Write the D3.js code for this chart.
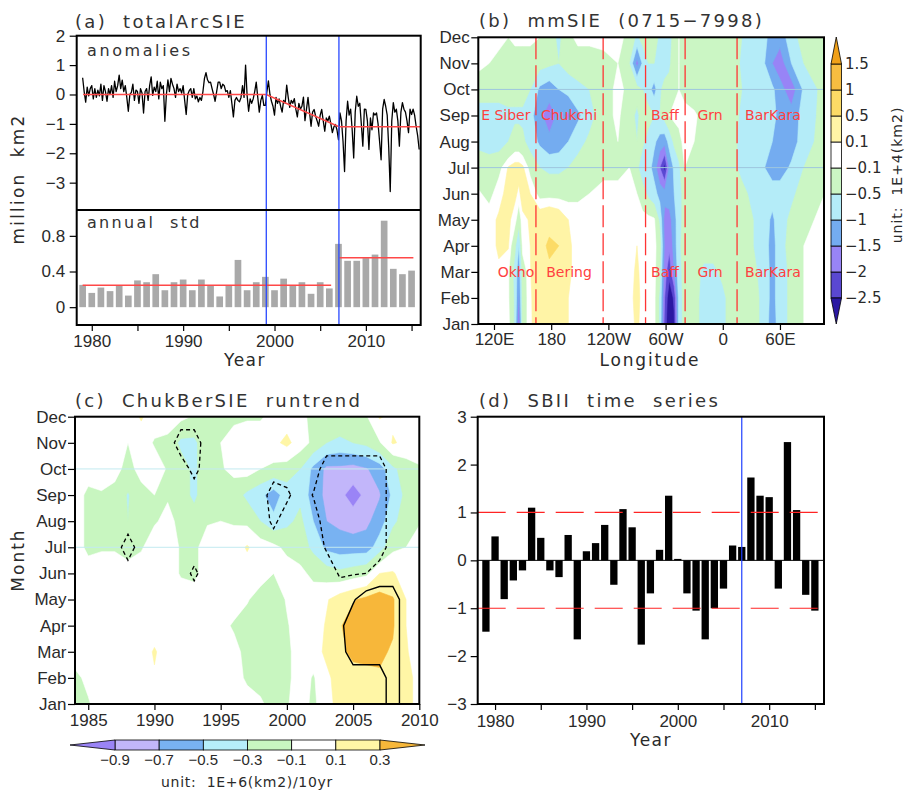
<!DOCTYPE html>
<html>
<head>
<meta charset="utf-8">
<script src="https://cdn.jsdelivr.net/npm/d3@7/dist/d3.min.js"></script>
<style>
body { margin:0; background:#fff; }
</style>
</head>
<body>
<svg id="chart" width="905" height="791" xmlns="http://www.w3.org/2000/svg"></svg>
<script>
// ======================= DATA =======================
// (a) total Arctic SIE anomalies, 6 samples per year from Jan 1979 (million km2)
const anomStartYear = 1979;
const anomStepsPerYear = 6;
const anomValues = [
  0.57, 0.1, -0.26, 0.25, -0.05, 0.2,
  0.3, -0.15, 0.2, -0.1, 0.15, -0.05,
  0.35, -0.2, 0.3, 0.1, -0.23, 0.2,
  0.0, 0.3, -0.1, 0.45, 0.1, 0.3,
  0.66, 0.2, 0.49, 0.1, 0.3, -0.1,
  -0.57, 0.0, 0.07, 0.35, -0.2, 0.15,
  0.1, -0.3, 0.2, 0.05, -0.63, 0.1,
  0.2, -0.2, 0.3, 0.6, -0.03, 0.25,
  0.1, 0.45, -0.15, 0.42, 0.2, 0.3,
  -0.91, 0.0, 0.5, 0.1, 0.55, 0.35,
  0.2, -0.1, 0.35, 0.1, 0.2, 0.05,
  0.3, -0.2, -0.68, 0.0, 0.13, 0.2,
  -0.1, 0.2, -0.15, -0.05, -0.25, -0.1,
  -0.2, 0.1, 0.55, 0.74, 0.5, 0.4,
  0.42, 0.2, 0.0, -0.23, 0.1, 0.42,
  0.42, 0.2, 0.35, 0.3, 0.1, 0.13,
  -0.1, 0.13, -0.3, -0.76, -0.2, -0.1,
  -0.2, -0.25, -0.1, 0.3, -0.1, 1.0,
  -0.03, -0.57, -0.15, -0.3, -0.15, 0.1,
  0.42, -0.1, -0.6, -0.2, -0.03, -0.37,
  -0.37, 0.1, 0.46, 0.0, -0.23, -0.4,
  -0.7, -0.1, -0.3, -0.15, -0.4, -0.6,
  -0.2, -0.3, 0.32, -0.1, -0.44, -0.2,
  -0.3, -0.14, -0.5, -0.76, -0.3, -0.5,
  -0.4, -0.09, -0.89, -0.5, -0.1, -0.6,
  -1.08, -0.6, -0.51, -0.74, -0.9, -1.08,
  -0.7, -0.51, -0.9, -1.25, -0.8, -0.9,
  -0.74, -1.0, -1.3, -1.1, -1.02, -1.2,
  -1.54, -0.63, -0.9, -1.6, -2.62, -0.9,
  -0.23, -0.7, -0.5, -1.2, -2.16, -0.6,
  -0.06, -0.4, -0.3, -1.0, -1.76, -0.5,
  -0.51, -0.9, -1.87, -0.8, -1.2, -0.63,
  -0.7, -0.63, -1.0, -1.6, -2.22, -0.5,
  -0.17, -0.4, -0.7, -1.8, -3.3, -0.9,
  -0.28, -0.6, -0.5, -0.9, -1.76, -0.6,
  -0.28, -0.5, -0.6, -0.9, -1.3, -0.5,
  -0.68, -0.5, -0.7, -1.08, -1.4, -1.87
];
const trendYears = [1979.05, 1999.1, 2007.05, 2016];
const trendValues = [0, 0, -1.1, -1.1];
const breakYearsA = [1999.1, 2007.05];
const anomTicks = [-3, -2, -1, 0, 1, 2];

const stdYears = d3.range(1979, 2016);
const stdValues = [0.25,0.16,0.22,0.18,0.24,0.13,0.30,0.28,0.37,0.19,
                   0.28,0.31,0.19,0.31,0.24,0.12,0.24,0.53,0.19,0.28,
                   0.34,0.19,0.32,0.24,0.28,0.15,0.28,0.21,0.71,0.52,
                   0.52,0.55,0.59,0.97,0.43,0.37,0.41];
const stdMeanStart = [1979, 2007.1];
const stdMeanEnd = [2006.2, 2015.2];
const stdMeanValues = [0.245, 0.555];
const stdTicks = [0, 0.4, 0.8];

// (b) mmSIE difference (0715-7998), unit 1E+4 km2 ; rows Jan..Dec, columns = lonGrid
const monthNames = ["Jan","Feb","Mar","Apr","May","Jun","Jul","Aug","Sep","Oct","Nov","Dec"];
const lonGrid = [103,115,125,135,142,146,150,158,168,178,188,198,208,220,235,250,262,270,276,282,
                 288,294,299,304,309,314,320,330,340,350,360,370,380,392,404,412,420,432,445,467];
const mmSIE = [
  [0.05,0,0.08,0, -0.6,-2.0,-0.3,0.05, 0.3,0.3,0.25,0.1, 0,0,0,0, 0,0.15,0,0, 0,-0.6,-2.2,-3.0, -2.6,-0.8,-0.3,-0.3, -0.7,-0.8,-0.6,-0.3, -0.2,-0.3,-0.7,-1.3, -0.7,-0.4,-0.1,0],
  [0,0.05,0.08,-0.05, -0.6,-1.6,-0.3,0.05, 0.35,0.35,0.3,0.1, 0,0,0,0, 0.05,0.15,0.05,0, 0,-0.6,-2.0,-2.9, -2.4,-0.8,-0.3,-0.3, -0.7,-0.8,-0.6,-0.3, -0.2,-0.3,-0.7,-1.2, -0.7,-0.4,-0.1,0],
  [0,0.05,0.08,-0.05, -0.7,-1.3,-0.3,0.08, 0.4,0.45,0.4,0.15, 0,0,0,0, 0,0.15,0,0, 0,-0.4,-1.8,-2.3, -1.5,-0.7,-0.3,-0.3, -0.6,-0.6,-0.4,-0.3, -0.2,-0.4,-0.7,-1.2, -0.7,-0.4,-0.1,0],
  [0,0.05,0.12,0.12, -0.4,-1.0,0.0,0.1, 0.4,0.55,0.5,0.15, 0,0,0,0, 0,0.1,0,0, 0,-0.3,-1.6,-1.9, -1.3,-0.6,-0.3,-0.3, -0.3,-0.3,-0.3,-0.2, -0.3,-0.5,-0.8,-1.2, -0.7,-0.3,-0.1,0],
  [0,0.05,0.12,0.15, 0,-0.3,0.05,0.12, 0.3,0.4,0.3,0.1, 0,0,0,0, 0,0,0,0, -0.05,-0.6,-1.7,-1.7, -1.2,-0.7,-0.3,-0.3, -0.3,-0.2,-0.3,-0.3, -0.3,-0.5,-0.8,-1.1, -0.7,-0.4,-0.2,0],
  [-0.05,-0.2,0.05,0.15, 0.15,0.05,0.2,0.1, -0.2,-0.2,-0.2,-0.2, -0.15,-0.1,0,0, 0,-0.1,-0.3,-0.6, -0.8,-1.2,-1.3,-1.2, -1.0,-0.7,-0.3,-0.2, -0.3,-0.2,-0.3,-0.3, -0.4,-0.6,-0.8,-0.8, -0.7,-0.6,-0.3,-0.1],
  [-0.3,-0.3,-0.2,0.12, 0.2,0.2,0.15,-0.2, -0.5,-0.6,-0.6,-0.5, -0.3,-0.3,-0.2,-0.2, -0.1,-0.4,-0.8,-0.8, -1.2,-2.0,-2.7,-1.4, -0.9,-0.6,-0.1,-0.3, -0.3,-0.3,-0.3,-0.4, -0.6,-0.8,-1.0,-1.2, -1.3,-0.9,-0.5,-0.2],
  [-0.6,-0.7,-0.7,-0.5, -0.3,-0.3,-0.4,-0.7, -1.1,-1.4,-1.3,-1.0, -0.7,-0.4,-0.15,-0.1, -0.15,-0.5,-0.4,-0.7, -0.9,-1.2,-1.3,-0.8, -0.4,-0.2,0,-0.1, -0.3,-0.3,-0.3,-0.4, -0.6,-0.7,-0.8,-1.0, -1.2,-1.3,-0.7,-0.3],
  [-0.7,-0.7,-0.7,-0.6, -0.6,-0.6,-0.6,-0.8, -1.4,-1.7,-1.4,-1.6, -1.1,-0.7,-0.2,-0.05, -0.3,-0.6,-0.3,-0.3, -0.5,-0.5,-0.3,-0.1, 0,0,0,-0.05, -0.2,-0.3,-0.3,-0.3, -0.6,-0.7,-0.8,-0.9, -1.1,-1.3,-0.8,-0.3],
  [-0.3,-0.3,-0.3,-0.3, -0.3,-0.3,-0.3,-0.5, -1.1,-1.3,-1.0,-0.8, -0.6,-0.5,-0.2,-0.05, -0.15,-0.3,-0.5,-0.8, -1.2,-0.6,-0.3,-0.3, -0.2,-0.1,-0.2,-0.3, -0.3,-0.2,-0.1,-0.2, -0.5,-0.7,-0.8,-0.9, -1.3,-1.8,-0.9,-0.3],
  [0,-0.1,-0.2,-0.2, -0.3,-0.3,-0.3,-0.3, -0.3,-0.4,-0.5,-0.3, -0.3,-0.3,-0.2,-0.1, -0.5,-1.7,-0.9,-0.5, -0.5,-0.7,-0.8,-0.6, -0.2,-0.1,-0.2,-0.3, -0.3,-0.2,-0.1,-0.2, -0.6,-0.7,-1.0,-1.5, -1.8,-1.0,-0.5,-0.2],
  [0.05,0,0,-0.1, 0,0,0,0, -0.1,-0.3,-0.6,-0.2, 0,0,0,0, -0.2,-0.6,-0.3,-0.1, -0.3,-0.6,-1.0,-0.7, -0.3,-0.1,-0.3,-0.3, -0.3,-0.2,-0.1,-0.3, -0.5,-0.7,-0.9,-1.2, -1.3,-0.7,-0.3,-0.1]
];
const levelsB = [-2.5,-2,-1.5,-1,-0.5,-0.1,0.1,0.5,1,1.5];
const colorsB = ["#2a18a2","#5a48d2","#9884f6","#74acf0","#b4ecf8","#cbf6c4","#ffffff","#fff4a6","#fcdb66","#f7bd40","#f0a018"];
const lonTickValues = [120,180,240,300,360,420];
const lonTickLabels = ["120E","180","120W","60W","0","60E"];
const regionDividers = [164, 234.5, 279, 320.5, 375];
const regionNamesSep = ["E Siber","Chukchi","Baff","Grn","BarKara"];
const regionLonsSep = [132.4, 198.7, 299.4, 346.6, 412.7];
const regionNamesMar = ["Okho","Bering","Baff","Grn","BarKara"];
const regionLonsMar = [143, 198.7, 299.4, 346.6, 412.7];
const guideMonths = [6, 9];

// (c) ChukBer SIE running trend, unit 1E+6 km2/10yr ; rows Jan..Dec, columns 1984..2010
const runYears = d3.range(1984, 2011);
const runtrend = [
  [-0.15,-0.12,0,0,0,0,0.05,0,0,0,0,0,0,-0.05,-0.08,-0.15,-0.12,0,-0.15,0.05,0.15,0.2,0.22,0.25,0.25,0.15,0.05],
  [-0.15,-0.05,0,0,0,0,0.08,0,0,0.1,0,0,-0.05,-0.12,-0.15,-0.15,-0.15,0,-0.12,0.05,0.2,0.22,0.25,0.28,0.28,0.15,0.05],
  [0,0,0,0,0,0,0.12,0,0,0,0,0,-0.05,-0.15,-0.2,-0.2,-0.15,0,0,0.15,0.25,0.35,0.35,0.33,0.28,0.12,0],
  [0,0,0,0,0,0,0,0,0,0,0.05,-0.05,-0.12,-0.2,-0.2,-0.15,-0.12,0,0,0.12,0.28,0.4,0.35,0.4,0.32,0.1,0],
  [0,0,0,0,0,0,0,0,0,0,0,0,-0.02,-0.08,-0.2,-0.22,-0.08,0,0,0.08,0.2,0.28,0.35,0.38,0.32,0.1,0],
  [0,0,0,0,0,0,0,0,-0.12,-0.15,0,0,0,0,0,-0.1,0,-0.05,-0.15,-0.2,-0.25,-0.2,-0.15,0.1,0.12,0,0],
  [0,-0.15,-0.12,-0.12,-0.2,-0.12,0,0,-0.12,-0.15,0,0,0,0.12,0,-0.05,-0.15,-0.2,-0.35,-0.55,-0.6,-0.6,-0.6,-0.4,-0.15,-0.1,0],
  [0,-0.15,-0.15,-0.12,-0.3,-0.15,-0.12,-0.05,-0.15,-0.2,-0.12,-0.1,-0.12,-0.15,-0.3,-0.45,-0.35,-0.25,-0.5,-0.7,-0.75,-0.8,-0.75,-0.6,-0.35,-0.2,-0.12],
  [0,-0.15,-0.12,-0.15,-0.32,-0.15,-0.1,-0.12,-0.2,-0.35,-0.15,-0.12,-0.2,-0.35,-0.45,-0.6,-0.4,-0.35,-0.6,-0.75,-0.85,-0.98,-0.85,-0.72,-0.45,-0.25,-0.12],
  [0,0,0,-0.05,-0.15,-0.05,0,-0.12,-0.2,-0.35,-0.15,-0.12,-0.05,0,-0.1,-0.15,-0.2,-0.3,-0.55,-0.75,-0.75,-0.78,-0.72,-0.6,-0.35,-0.2,-0.12],
  [0,0,0,0,-0.1,0,-0.12,-0.15,-0.35,-0.35,-0.15,-0.1,0,0,0,0.05,0.15,0,-0.15,-0.3,-0.35,-0.3,-0.25,-0.12,0.12,0.05,0],
  [0,0,0,0,0,0.12,0,0,-0.05,-0.12,-0.12,-0.12,-0.15,-0.12,-0.12,-0.05,0,-0.05,-0.15,-0.2,-0.15,-0.12,-0.12,0.12,0.05,0,0]
];
// significance cells: [year, monthIndex, signed strength]
const sigCells = [
  [1988,6,-1],[1993,5,-0.7],[1992,10,-1],[1993,10,-1],[1993,9,-0.8],
  [1999,8,-1],[2000,8,-0.7],[1999,7,-0.7],
  [2002,8,-0.55],[2003,6,-0.6],[2003,7,-1],[2003,8,-1],[2003,9,-1],
  [2004,6,-1],[2004,7,-1],[2004,8,-1],[2004,9,-1],[2004,5,-0.6],
  [2005,6,-1],[2005,7,-1],[2005,8,-1],[2005,9,-1],[2005,5,-0.55],
  [2006,6,-1],[2006,7,-1],[2006,8,-1],[2006,9,-1],[2006,5,-0.5],
  [2007,6,-1],[2007,7,-1],[2007,8,-1],[2007,9,-1],
  [2004,3,0.3],[2004,2,0.1],
  [2005,2,1],[2005,3,1],[2005,4,0.4],
  [2006,2,1],[2006,3,1],[2006,4,1],
  [2007,2,1],[2007,3,1],[2007,4,1],
  [2008,0,1],[2008,1,1],[2008,2,1],[2008,3,1],[2008,4,1]
];
const levelsC = [-0.9,-0.7,-0.5,-0.3,-0.1,0.1,0.3];
const colorsC = ["#9a84f6","#c2b6fa","#78b2f2","#b6eefa","#c8f6c0","#ffffff","#fff6a6","#f7b73a"];
const runYearTicks = [1985,1990,1995,2000,2005,2010];

// (d) SBII time series
const sbiiYears = d3.range(1979, 2016);
const sbiiValues = [-1.49,0.50,-0.81,-0.42,-0.21,1.10,0.47,-0.21,-0.35,0.53,
                    -1.65,0.19,0.36,0.74,-0.51,1.07,0.69,-1.76,-0.69,0.22,
                    1.35,0.03,-0.69,-1.05,-1.65,-1.00,-0.59,0.31,0.28,1.73,
                    1.35,1.32,-0.59,2.47,1.05,-0.72,-1.05];
const sbiiThresholds = [1, -1];
const breakYearD = [2007];
const sbiiTicks = [-3,-2,-1,0,1,2,3];
const yearTicks5 = [1980,1985,1990,1995,2000,2005,2010,2015];

// ======================= DRAWING =======================
const svg = d3.select("#chart");
const LIB = '"Liberation Sans", Arial, sans-serif';
const DJV = '"DejaVu Sans", sans-serif';
const TXT = "#2a2a2a";

function styleAxis(g, size) {
  g.select(".domain").remove();
  g.selectAll(".tick line").attr("stroke", "#000").attr("stroke-width", 1.2);
  g.selectAll(".tick text").attr("fill", TXT)
    .style("font-family", LIB).style("font-size", (size || 17) + "px");
}
function addText(x, y, txt, opts) {
  const o = Object.assign({font: DJV, size: 17, ls: 0, anchor: "start", fill: TXT, rotate: 0, baseline: null}, opts || {});
  const t = svg.append("text").attr("x", x).attr("y", y).text(txt)
    .attr("fill", o.fill).attr("text-anchor", o.anchor)
    .style("font-family", o.font).style("font-size", o.size + "px")
    .style("letter-spacing", o.ls + "px").style("white-space", "pre");
  if (o.baseline) t.attr("dominant-baseline", o.baseline);
  if (o.rotate) t.attr("transform", `rotate(${o.rotate},${x},${y})`);
  return t;
}
const clamp = (v, a, b) => Math.max(a, Math.min(b, v));
function contourPath(c, proj) {
  return c.coordinates.map(poly => poly.map(ring =>
    "M" + ring.map(p => proj(p).map(n => n.toFixed(2)).join(",")).join("L") + "Z").join("")).join("");
}
function fillField(g, grid, proj, levels, colors, box) {
  const ny = grid.length, nx = grid[0].length;
  const values = grid.flat();
  g.append("rect").attr("x", box[0]).attr("y", box[1]).attr("width", box[2] - box[0]).attr("height", box[3] - box[1])
    .attr("fill", colors[0]);
  const cs = d3.contours().size([nx, ny]).thresholds(levels)(values);
  cs.forEach((c, i) => {
    g.append("path").attr("d", contourPath(c, proj))
      .attr("fill", colors[i + 1]).attr("fill-rule", "evenodd")
      .attr("stroke", colors[i + 1]).attr("stroke-width", 0.6);
  });
}

// ---------------- Panel (a) ----------------
const aL = 76.7, aR = 420.7, aT = 35.7, aM = 210, aB = 325;
const ax = d3.scaleLinear().domain([1978.35, 2016]).range([aL, aR]);
const ayTop = d3.scaleLinear().domain([-3.93, 2]).range([aM, aT]);
const ayBot = d3.scaleLinear().domain([-0.2, 1.09]).range([aB, aM]);

svg.append("clipPath").attr("id", "clipA").append("rect").attr("x", aL).attr("y", aT).attr("width", aR - aL).attr("height", aM - aT);
const gA = svg.append("g");
const anomPts = anomValues.map((v, k) => [anomStartYear + k / anomStepsPerYear, v]);
gA.append("path").attr("clip-path", "url(#clipA)")
  .attr("d", d3.line().x(d => ax(d[0])).y(d => ayTop(d[1]))(anomPts))
  .attr("fill", "none").attr("stroke", "#000").attr("stroke-width", 1.3).attr("stroke-linejoin", "round");
gA.append("path").attr("clip-path", "url(#clipA)")
  .attr("d", d3.line().x((d, i) => ax(trendYears[i])).y(d => ayTop(d))(trendValues))
  .attr("fill", "none").attr("stroke", "#ff4848").attr("stroke-width", 1.6);

// std bars
const barWA = (ax(1) - ax(0)) * 0.73;
gA.selectAll("rect.std").data(stdYears).enter().append("rect")
  .attr("x", d => ax(d) - barWA / 2).attr("width", barWA)
  .attr("y", (d, i) => ayBot(stdValues[i])).attr("height", (d, i) => ayBot(0) - ayBot(stdValues[i]))
  .attr("fill", "#a9a9a9");
stdMeanValues.forEach((v, i) => {
  gA.append("line").attr("x1", ax(stdMeanStart[i])).attr("x2", ax(stdMeanEnd[i]))
    .attr("y1", ayBot(v)).attr("y2", ayBot(v)).attr("stroke", "#ff4848").attr("stroke-width", 1.5);
});
breakYearsA.forEach(y => {
  gA.append("line").attr("x1", ax(y)).attr("x2", ax(y)).attr("y1", aT).attr("y2", aB)
    .attr("stroke", "#2848ff").attr("stroke-width", 1.3);
});
// axes
styleAxis(svg.append("g").attr("transform", `translate(${aL},0)`)
  .call(d3.axisLeft(ayTop).tickValues(anomTicks).tickFormat(d3.format("d")).tickSize(7).tickPadding(4.5)));
styleAxis(svg.append("g").attr("transform", `translate(${aL},0)`)
  .call(d3.axisLeft(ayBot).tickValues(stdTicks).tickFormat(d3.format("~g")).tickSize(7).tickPadding(4.5)));
styleAxis(svg.append("g").attr("transform", `translate(0,${aB})`)
  .call(d3.axisBottom(ax).tickValues(yearTicks5).tickFormat(d => d % 10 === 0 ? d : "").tickSize(6).tickPadding(4)));
svg.append("rect").attr("x", aL).attr("y", aT).attr("width", aR - aL).attr("height", aB - aT)
  .attr("fill", "none").attr("stroke", "#000").attr("stroke-width", 2);
svg.append("line").attr("x1", aL).attr("x2", aR).attr("y1", aM).attr("y2", aM).attr("stroke", "#000").attr("stroke-width", 2);
addText(75, 28, "(a)  totalArcSIE", {size: 18, ls: 2.3, fill: "#333"});
addText(87, 56, "anomalies", {size: 16, ls: 2.6, fill: "#333"});
addText(87, 228, "annual  std", {size: 16, ls: 2.3, fill: "#333"});
addText(245, 366, "Year", {size: 17, ls: 1.5, anchor: "middle"});
addText(18, 179, "million  km2", {size: 17, ls: 2.2, anchor: "middle", rotate: -90, baseline: "central"});

// ---------------- Panel (b) ----------------
const bL = 478.3, bR = 824, bT = 37.3, bB = 324;
const bx = d3.scaleLinear().domain([103.53, 466.2]).range([bL, bR]);
const by = d3.scaleLinear().domain([0, 11]).range([bB, bT]);
const lonOfIdx = d3.scaleLinear().domain(d3.range(lonGrid.length)).range(lonGrid);
svg.append("clipPath").attr("id", "clipB").append("rect").attr("x", bL).attr("y", bT).attr("width", bR - bL).attr("height", bB - bT);
const gB = svg.append("g").attr("clip-path", "url(#clipB)");
const projB = ([u, v]) => [bx(lonOfIdx(clamp(u - 0.5, 0, lonGrid.length - 1))), by(clamp(v - 0.5, 0, 11))];
fillField(gB, mmSIE, projB, levelsB, colorsB, [bL, bT, bR, bB]);
guideMonths.forEach(m => {
  gB.append("line").attr("x1", bL).attr("x2", bR).attr("y1", by(m)).attr("y2", by(m))
    .attr("stroke", "#9ec6de").attr("stroke-width", 1);
});
regionDividers.forEach(l => {
  gB.append("line").attr("x1", bx(l)).attr("x2", bx(l)).attr("y1", bT).attr("y2", bB)
    .attr("stroke", "#ff3434").attr("stroke-width", 1.3).attr("stroke-dasharray", "22,6");
});
regionNamesSep.forEach((n, i) => {
  gB.append("text").attr("x", bx(regionLonsSep[i])).attr("y", by(8) + 5).text(n)
    .attr("text-anchor", "middle").attr("fill", "#ff4040").style("font-family", DJV).style("font-size", "14px");
});
regionNamesMar.forEach((n, i) => {
  gB.append("text").attr("x", bx(regionLonsMar[i])).attr("y", by(2) + 5).text(n)
    .attr("text-anchor", "middle").attr("fill", "#ff4040").style("font-family", DJV).style("font-size", "14px");
});
styleAxis(svg.append("g").attr("transform", `translate(${bL},0)`)
  .call(d3.axisLeft(by).tickValues(d3.range(12)).tickFormat(i => monthNames[i]).tickSize(7).tickPadding(1.5)));
styleAxis(svg.append("g").attr("transform", `translate(0,${bB})`)
  .call(d3.axisBottom(bx).tickValues(lonTickValues).tickFormat((d, i) => lonTickLabels[i]).tickSize(6).tickPadding(3)));
svg.append("rect").attr("x", bL).attr("y", bT).attr("width", bR - bL).attr("height", bB - bT)
  .attr("fill", "none").attr("stroke", "#000").attr("stroke-width", 2);
addText(479, 27, "(b)  mmSIE  (0715\u22127998)", {size: 18, ls: 2.3, fill: "#333"});
addText(650, 366, "Longitude", {size: 17, ls: 1.8, anchor: "middle"});

// colorbar (b)
const cbX = 831, cbW = 10.5;
const cbY = d3.scaleLinear().domain([0, levelsB.length - 1]).range([298, 64]);
const gCB = svg.append("g");
for (let i = 0; i < levelsB.length - 1; i++) {
  gCB.append("rect").attr("x", cbX).attr("y", cbY(i + 1)).attr("width", cbW).attr("height", cbY(i) - cbY(i + 1))
    .attr("fill", colorsB[i + 1]).attr("stroke", "#000").attr("stroke-width", 0.8);
}
gCB.append("path").attr("d", `M${cbX},${cbY(0)}L${cbX + cbW},${cbY(0)}L${cbX + cbW / 2},324Z`)
  .attr("fill", colorsB[0]).attr("stroke", "#000").attr("stroke-width", 0.8);
gCB.append("path").attr("d", `M${cbX},${cbY(levelsB.length - 1)}L${cbX + cbW},${cbY(levelsB.length - 1)}L${cbX + cbW / 2},37Z`)
  .attr("fill", colorsB[colorsB.length - 1]).attr("stroke", "#000").attr("stroke-width", 0.8);
levelsB.forEach((l, i) => {
  gCB.append("text").attr("x", 845).attr("y", cbY(i)).attr("dominant-baseline", "central").text(d3.format("~g")(l))
    .attr("fill", TXT).style("font-family", DJV).style("font-size", "15px");
});
addText(897, 175, "unit:  1E+4(km2)", {size: 14, ls: 1.0, anchor: "middle", rotate: -90, baseline: "central"});

// ---------------- Panel (c) ----------------
const cL = 75, cR = 419.3, cT = 416.7, cB = 704;
const cx = d3.scaleLinear().domain([1984, 2010]).range([cL, cR]);
const cy = d3.scaleLinear().domain([0, 11]).range([cB, cT]);
svg.append("clipPath").attr("id", "clipC").append("rect").attr("x", cL).attr("y", cT).attr("width", cR - cL).attr("height", cB - cT);
const gC = svg.append("g").attr("clip-path", "url(#clipC)");
const nYc = runYears.length;
const projC = ([u, v]) => [cx(runYears[0] + clamp(u - 0.5, 0, nYc - 1)), cy(clamp(v - 0.5, 0, 11))];
fillField(gC, runtrend, projC, levelsC, colorsC, [cL, cT, cR, cB]);
guideMonths.forEach(m => {
  gC.append("line").attr("x1", cL).attr("x2", cR).attr("y1", cy(m)).attr("y2", cy(m))
    .attr("stroke", "#c2eaf0").attr("stroke-width", 1);
});
// significance contours
const sigGrid = d3.range(12).map(() => new Array(nYc).fill(0));
sigCells.forEach(([yr, m, v]) => { sigGrid[m][yr - runYears[0]] = v; });
const negC = d3.contours().size([nYc, 12]).thresholds([0.5])(sigGrid.flat().map(v => -v))[0];
const posC = d3.contours().size([nYc, 12]).thresholds([0.5])(sigGrid.flat())[0];
gC.append("path").attr("d", contourPath(negC, projC)).attr("fill", "none").attr("stroke", "#000")
  .attr("stroke-width", 1.3).attr("stroke-dasharray", "4,3");
gC.append("path").attr("d", contourPath(posC, projC)).attr("fill", "none").attr("stroke", "#000")
  .attr("stroke-width", 1.4);
styleAxis(svg.append("g").attr("transform", `translate(${cL},0)`)
  .call(d3.axisLeft(cy).tickValues(d3.range(12)).tickFormat(i => monthNames[i]).tickSize(7).tickPadding(1.5)));
styleAxis(svg.append("g").attr("transform", `translate(0,${cB})`)
  .call(d3.axisBottom(cx).tickValues(runYearTicks).tickFormat(d3.format("d")).tickSize(6).tickPadding(3.5)));
svg.append("rect").attr("x", cL).attr("y", cT).attr("width", cR - cL).attr("height", cB - cT)
  .attr("fill", "none").attr("stroke", "#000").attr("stroke-width", 2);
addText(75, 406.7, "(c)  ChukBerSIE  runtrend", {size: 18, ls: 2.3, fill: "#333"});
addText(18, 560, "Month", {size: 17, ls: 2, anchor: "middle", rotate: -90, baseline: "central"});

// colorbar (c)
const ccX = d3.scaleLinear().domain([0, levelsC.length - 1]).range([115, 380]);
const ccY = 740, ccH = 10;
const gCC = svg.append("g");
for (let i = 0; i < levelsC.length - 1; i++) {
  gCC.append("rect").attr("x", ccX(i)).attr("y", ccY).attr("width", ccX(i + 1) - ccX(i)).attr("height", ccH)
    .attr("fill", colorsC[i + 1]).attr("stroke", "#000").attr("stroke-width", 0.8);
}
gCC.append("path").attr("d", `M${ccX(0)},${ccY}L${ccX(0)},${ccY + ccH}L70,${ccY + ccH / 2}Z`)
  .attr("fill", colorsC[0]).attr("stroke", "#000").attr("stroke-width", 0.8);
gCC.append("path").attr("d", `M${ccX(levelsC.length - 1)},${ccY}L${ccX(levelsC.length - 1)},${ccY + ccH}L425,${ccY + ccH / 2}Z`)
  .attr("fill", colorsC[colorsC.length - 1]).attr("stroke", "#000").attr("stroke-width", 0.8);
levelsC.forEach((l, i) => {
  gCC.append("text").attr("x", ccX(i)).attr("y", 765).attr("text-anchor", "middle").text(d3.format("~g")(l))
    .attr("fill", TXT).style("font-family", LIB).style("font-size", "15px");
});
addText(247, 787, "unit:  1E+6(km2)/10yr", {size: 14, ls: 0.7, anchor: "middle"});

// ---------------- Panel (d) ----------------
const dL = 477.7, dR = 824, dT = 416.7, dB = 704;
const dx = d3.scaleLinear().domain([1978.1, 2016]).range([dL, dR]);
const dy = d3.scaleLinear().domain([-3, 3]).range([dB, dT]);
const gD = svg.append("g");
const barWD = (dx(1) - dx(0)) * 0.8;
gD.selectAll("rect.sbii").data(sbiiYears).enter().append("rect")
  .attr("x", d => dx(d) - barWD / 2).attr("width", barWD)
  .attr("y", (d, i) => dy(Math.max(0, sbiiValues[i])))
  .attr("height", (d, i) => Math.abs(dy(sbiiValues[i]) - dy(0)))
  .attr("fill", "#000");
gD.append("line").attr("x1", dL).attr("x2", dR).attr("y1", dy(0)).attr("y2", dy(0)).attr("stroke", "#000").attr("stroke-width", 1);
sbiiThresholds.forEach(t => {
  gD.append("line").attr("x1", dL).attr("x2", dR).attr("y1", dy(t)).attr("y2", dy(t))
    .attr("stroke", "#ff2424").attr("stroke-width", 1.2).attr("stroke-dasharray", "28,11");
});
breakYearD.forEach(y => {
  gD.append("line").attr("x1", dx(y)).attr("x2", dx(y)).attr("y1", dT).attr("y2", dB)
    .attr("stroke", "#2040ff").attr("stroke-width", 1.2);
});
styleAxis(svg.append("g").attr("transform", `translate(${dL},0)`)
  .call(d3.axisLeft(dy).tickValues(sbiiTicks).tickFormat(d3.format("d")).tickSize(7).tickPadding(4)));
styleAxis(svg.append("g").attr("transform", `translate(0,${dB})`)
  .call(d3.axisBottom(dx).tickValues(yearTicks5).tickFormat(d => d % 10 === 0 ? d : "").tickSize(6).tickPadding(5)));
svg.append("rect").attr("x", dL).attr("y", dT).attr("width", dR - dL).attr("height", dB - dT)
  .attr("fill", "none").attr("stroke", "#000").attr("stroke-width", 2);
addText(479, 406.7, "(d)  SBII  time  series", {size: 18, ls: 2.3, fill: "#333"});
addText(651, 746, "Year", {size: 17, ls: 1.5, anchor: "middle"});
</script>
</body>
</html>
